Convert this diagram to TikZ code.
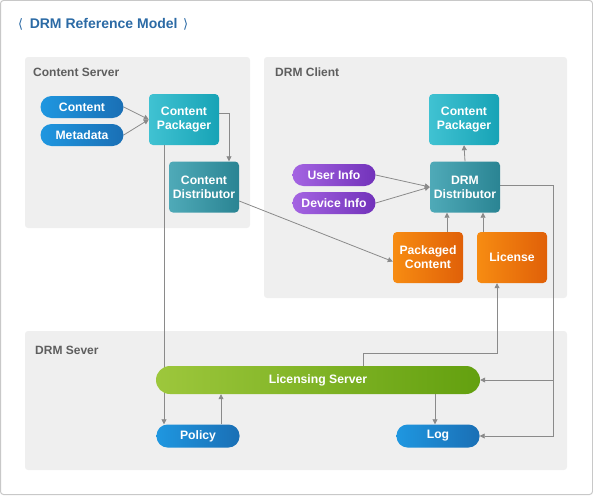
\documentclass[tikz,border=0pt]{standalone}
\usepackage{fontspec}
\setmainfont{Liberation Sans}
\newfontfamily\djv{DejaVu Sans}
\usetikzlibrary{arrows.meta}
\pgfdeclarelayer{panels}
\pgfdeclarelayer{edges}
\pgfsetlayers{panels,edges,main}
\definecolor{bordergrey}{HTML}{C8C8C8}
\definecolor{panelfill}{HTML}{EFEFEF}
\definecolor{labelgrey}{HTML}{5E5E5E}
\definecolor{titleblue}{HTML}{2B6AA5}
\definecolor{edgegrey}{HTML}{8A8A8A}
\definecolor{blueA}{HTML}{1F97E0}
\definecolor{blueB}{HTML}{1A6FB5}
\definecolor{tealA}{HTML}{40C2D2}
\definecolor{tealB}{HTML}{17A3B6}
\definecolor{dtealA}{HTML}{4FAAB8}
\definecolor{dtealB}{HTML}{2A8493}
\definecolor{purpA}{HTML}{A464E2}
\definecolor{purpB}{HTML}{7232BA}
\definecolor{orA}{HTML}{F78C12}
\definecolor{orB}{HTML}{E06008}
\definecolor{grA}{HTML}{9DC73C}
\definecolor{grB}{HTML}{63A00F}
\begin{document}
\begin{tikzpicture}[x=1pt,y=-1pt,
  nodefont/.style={font=\bfseries\fontsize{12.2}{14}\selectfont},
  box/.style={nodefont, rounded corners=4pt, minimum width=70pt, minimum height=51pt, inner sep=0pt, text=white, align=center},
  pill/.style={nodefont, rounded corners=11pt, minimum width=83pt, minimum height=22pt, inner sep=0pt, text=white, align=center},
  bluefill/.style={left color=blueA, right color=blueB},
  tealfill/.style={left color=tealA, right color=tealB},
  dtealfill/.style={left color=dtealA, right color=dtealB},
  purpfill/.style={left color=purpA, right color=purpB},
  orfill/.style={left color=orA, right color=orB},
  grfill/.style={left color=grA, right color=grB},
  panel/.style={fill=panelfill, rounded corners=3pt},
  panellabel/.style={font=\bfseries\fontsize{12}{14}\selectfont, text=labelgrey, anchor=west, inner sep=0pt},
  arr/.style={draw=edgegrey, line width=0.8pt, -{Triangle[length=5pt,width=5pt]}}
]
\useasboundingbox (0,0) rectangle (593,495);
\draw[draw=bordergrey, line width=1pt, rounded corners=3pt] (0.5,0.5) rectangle (592.5,494.5);

\node[anchor=west, inner sep=0pt, text=titleblue, font=\bfseries\fontsize{14}{16}\selectfont] (title) at (18,24) {{\djv\mdseries\fontsize{13}{13}\selectfont\raisebox{0.5pt}{⟨}}\hspace{6.5pt}DRM Reference Model\hspace{5.5pt}{\djv\mdseries\fontsize{13}{13}\selectfont\raisebox{0.5pt}{⟩}}};

\begin{pgfonlayer}{panels}
\fill[panel] (25,57) rectangle (250,228);
\fill[panel] (264,57) rectangle (567,298);
\fill[panel] (25,331) rectangle (567,470);
\end{pgfonlayer}
\node[panellabel] (lcs) at (33,72) {Content Server};
\node[panellabel] (lcl) at (275,72) {DRM Client};
\node[panellabel] (lds) at (35,350) {DRM Sever};

% Content Server
\node[pill, bluefill] (content) at (82,107) {Content};
\node[pill, bluefill] (metadata) at (82,135) {Metadata};
\node[box, tealfill] (cpL) at (184,119.5) {Content\\Packager};
\node[box, dtealfill] (cdist) at (204,187) {Content\\Distributor};

% DRM Client
\node[box, tealfill] (cpR) at (464,119.5) {Content\\Packager};
\node[box, dtealfill] (ddist) at (465,187) {DRM\\Distributor};
\node[pill, purpfill] (user) at (334,175) {User Info};
\node[pill, purpfill] (device) at (334,203) {Device Info};
\node[box, orfill] (pcontent) at (428,257.5) {Packaged\\Content};
\node[box, orfill] (license) at (512,257.5) {License};

% DRM Server
\node[pill, grfill, minimum width=324pt, minimum height=28pt, rounded corners=14pt] (ls) at (318,380) {Licensing Server};
\node[pill, bluefill, minimum height=23pt] (policy) at (198,436) {Policy};
\node[pill, bluefill, minimum height=23pt] (log) at (438,436) {Log};

\coordinate (bus) at (553,0);

\begin{pgfonlayer}{edges}
\draw[arr] (content.east) -- (cpL.west);
\draw[arr] (metadata.east) -- (cpL.west);
\draw[arr] ([yshift=6pt]cpL.east) -| ([xshift=25pt]cdist.north);
\draw[arr] ([xshift=-20pt]cpL.south) -- ([xshift=-34pt]policy.north);
\draw[arr] ([yshift=-14pt]cdist.east) -- ([yshift=-4pt]pcontent.west);
\draw[arr] (user.east) -- (ddist.west);
\draw[arr] (device.east) -- (ddist.west);
\draw[arr] (ddist.north) -- (cpR.south);
\draw[arr] ([xshift=19pt]pcontent.north) -- ([xshift=19pt]pcontent.north |- ddist.south);
\draw[arr] ([xshift=-29pt]license.north) -- ([xshift=-29pt]license.north |- ddist.south);
\draw[arr] ([yshift=2pt]ddist.east) -| (bus |- log.east) -- (log.east);
\draw[arr] (bus |- ls.east) -- (ls.east);
\draw[arr] ([xshift=45pt]ls.north) -- ++(0,-12) -| ([xshift=-15pt]license.south);
\draw[arr] ([xshift=-3pt]log.north |- ls.south) -- ([xshift=-3pt]log.north);
\draw[arr] ([xshift=23pt]policy.north) -- ([xshift=23pt]policy.north |- ls.south);
\end{pgfonlayer}
\end{tikzpicture}
\end{document}
